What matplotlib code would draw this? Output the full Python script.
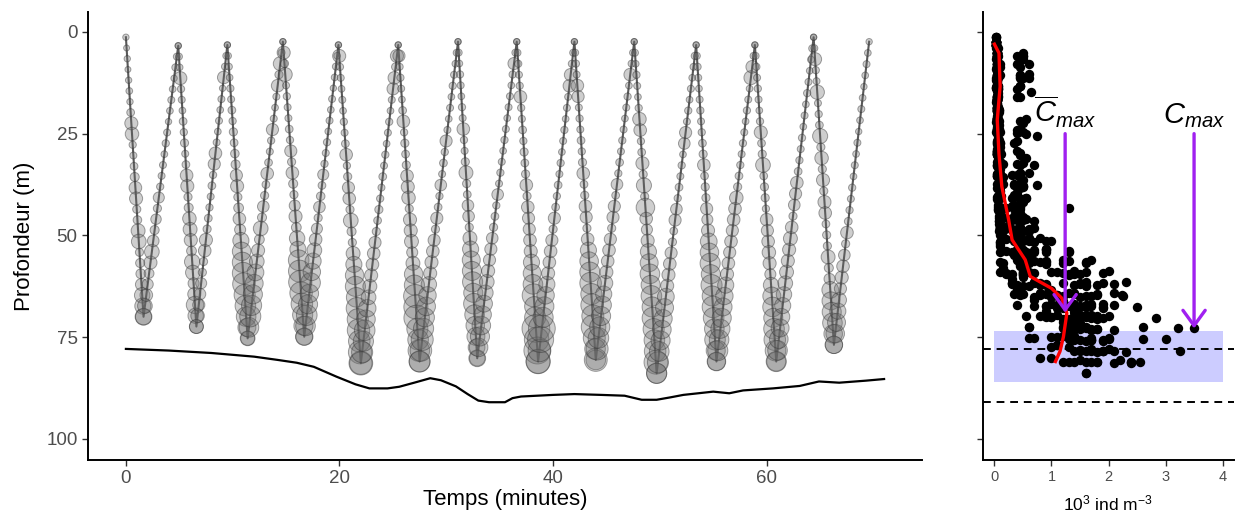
import numpy as np
import matplotlib
matplotlib.use('Agg')
import matplotlib.pyplot as plt

plt.rcParams['font.family'] = ['Liberation Sans', 'DejaVu Sans']
plt.rcParams['mathtext.fontset'] = 'custom'
plt.rcParams['mathtext.rm'] = 'Liberation Sans'
plt.rcParams['mathtext.it'] = 'Liberation Sans:italic'

# yo-yo track: turning points (surface / bottom of each profile)
turn_time = [0.0, 1.65, 4.9, 6.6, 9.5, 11.4, 14.7, 16.7, 19.9, 22.0, 25.5, 27.5, 31.1, 32.9,
             36.6, 38.6, 42.0, 44.0, 47.6, 49.7, 53.4, 55.3, 58.9, 60.9, 64.4, 66.3, 69.6]
turn_depth = [1.3, 70.0, 3.4, 72.4, 3.2, 75.3, 2.4, 74.9, 3.2, 81.4, 3.2, 81.0, 2.4, 80.2,
              2.4, 81.0, 2.4, 80.6, 2.4, 83.9, 3.2, 81.0, 3.2, 81.0, 1.3, 76.9, 2.4]

# concentrations (10^3 ind m-3) sampled along each leg, in time order
leg01 = [0.03,0.02,0.03,0.02,0.03,0.04,0.03,0.08,0.5,0.55,0.06,0.05,0.08,0.15,0.45,0.5,0.1,0.12,0.6,0.7,0.1,0.15,0.2,0.4,0.8,0.9,1.0]
leg02 = [0.9,0.7,0.45,0.3,0.2,0.5,0.7,0.35,0.15,0.25,0.1,0.3,0.06,0.05,0.05,0.04,0.06,0.05,0.03,0.04,0.05,0.04,0.03,0.06,0.05,0.03]
leg03 = [0.03,0.05,0.04,0.5,0.06,0.05,0.04,0.08,0.06,0.1,0.05,0.08,0.45,0.5,0.1,0.15,0.55,0.6,0.5,0.2,0.8,0.7,0.3,0.5,1.1,0.8,0.6]
leg04 = [0.6,0.55,0.4,0.35,0.3,0.1,0.1,0.45,0.5,0.1,0.08,0.06,0.05,0.08,0.06,0.4,0.45,0.05,0.04,0.05,0.04,0.05,0.03,0.45,0.05,0.04,0.03]
leg05 = [0.03,0.04,0.05,0.04,0.06,0.05,0.08,0.06,0.1,0.08,0.12,0.15,0.4,0.5,0.1,0.2,0.45,0.3,0.9,1.3,1.6,1.9,2.1,1.8,1.7,1.5,1.2,0.6]
leg06 = [0.7,1.5,1.8,1.6,1.4,1.2,1.0,0.7,0.5,0.2,0.7,0.15,0.35,0.1,0.08,0.45,0.08,0.05,0.06,0.4,0.05,0.04,0.05,0.45,0.1,0.6,0.05,0.03]
leg07 = [0.03,0.5,0.1,0.6,0.05,0.06,0.05,0.05,0.08,0.06,0.4,0.1,0.45,0.15,0.1,0.3,0.5,0.2,0.8,0.9,1.7,2.0,2.3,2.1,1.9,1.6,1.4,1.0]
leg08 = [1.1,1.5,1.7,1.4,1.3,1.5,1.1,0.9,0.7,0.45,0.3,0.1,0.35,0.12,0.08,0.3,0.06,0.05,0.06,0.04,0.05,0.04,0.05,0.03,0.04,0.05,0.04,0.03]
leg09 = [0.03,0.5,0.06,0.05,0.04,0.05,0.04,0.06,0.05,0.08,0.45,0.06,0.1,0.4,0.45,0.1,0.7,0.15,0.1,0.6,0.9,1.3,1.6,1.5,1.9,1.8,2.1,1.9,2.3,2.4]
leg10 = [2.1,1.8,1.6,1.7,1.3,1.1,0.7,0.6,0.5,0.45,0.45,0.4,0.1,0.08,0.1,0.06,0.05,0.08,0.05,0.06,0.04,0.05,0.06,0.04,0.05,0.4,0.45,0.1,0.5,0.03]
leg11 = [0.03,0.4,0.05,0.06,0.05,0.04,0.08,0.45,0.06,0.1,0.08,0.1,0.45,0.5,0.55,0.1,0.5,0.5,0.6,0.3,0.6,1.3,1.6,2.26,2.5,2.84,1.8,1.7,1.9,1.8]
leg12 = [1.7,1.9,2.0,1.6,1.4,1.3,1.1,0.8,0.5,0.5,0.45,0.4,0.1,0.4,0.08,0.06,0.35,0.05,0.08,0.06,0.4,0.05,0.04,0.05,0.04,0.06,0.05,0.04,0.05,0.03]
leg13 = [0.03,0.05,0.04,0.06,0.05,0.04,0.06,0.05,0.45,0.06,0.05,0.1,0.6,0.1,0.08,0.35,0.35,0.1,0.6,0.9,1.2,1.4,1.6,1.4,1.7,1.5,1.3,1.2,1.0,0.8]
leg14 = [1.0,1.3,1.4,1.3,1.1,1.0,0.8,0.7,0.5,0.4,0.4,0.35,0.1,0.08,0.06,0.35,0.05,0.06,0.05,0.04,0.06,0.05,0.04,0.05,0.05,0.04,0.06,0.4,0.05,0.03]
leg15 = [0.03,0.05,0.06,0.05,0.06,0.45,0.06,0.05,0.08,0.06,0.1,0.08,0.1,0.45,0.1,0.45,0.4,0.4,0.45,0.5,0.9,1.2,1.5,2.23,1.5,1.8,3.5,2.6,3.25,2.4]
leg16 = [2.55,2.1,3.0,3.22,1.6,1.4,1.1,0.9,0.5,0.45,0.45,0.4,0.1,0.4,0.08,0.06,0.08,0.05,0.06,0.04,0.05,0.06,0.04,0.05,0.05,0.45,0.45,0.06,0.05,0.03]
leg17 = [0.03,0.05,0.06,0.05,0.45,0.4,0.05,0.06,0.05,0.08,0.06,0.1,0.45,0.08,0.1,0.45,0.4,0.1,0.45,0.9,1.3,1.6,1.9,1.8,2.1,2.0,2.61,2.0,1.7,1.5]
leg18 = [2.2,2.0,1.7,1.6,1.4,1.2,0.9,0.8,0.5,0.45,0.45,0.4,0.1,0.4,0.4,0.08,0.35,0.06,0.08,0.05,0.06,0.05,0.04,0.05,0.06,0.04,0.45,0.05,0.04,0.03]
leg19 = [0.03,0.05,0.04,0.06,0.05,0.04,0.06,0.55,0.45,0.06,0.08,0.5,0.1,0.75,0.1,1.3,0.45,0.3,0.5,0.9,1.2,1.5,1.4,1.7,1.6,1.9,1.8,1.7,1.9,2.4,1.6]
leg20 = [1.6,1.8,1.5,1.4,1.3,1.2,1.2,1.0,0.5,0.5,0.45,0.4,0.1,0.08,0.4,0.35,0.06,0.08,0.05,0.06,0.04,0.35,0.4,0.05,0.06,0.04,0.05,0.04,0.05,0.06,0.03]
leg21 = [0.03,0.05,0.06,0.05,0.04,0.05,0.06,0.05,0.06,0.08,0.1,0.45,0.08,0.1,0.1,0.4,0.3,0.5,1.0,1.3,1.6,1.4,1.8,1.6,1.9,1.7,1.5,1.7,1.4,1.2]
leg22 = [1.3,1.6,1.5,1.4,1.4,1.2,1.1,0.9,0.5,0.45,0.4,0.45,0.4,0.45,0.45,0.55,0.1,0.08,0.06,0.05,0.06,0.05,0.04,0.06,0.05,0.04,0.6,0.45,0.05,0.03]
leg23 = [0.03,0.05,0.06,0.05,0.06,0.05,0.04,0.06,0.5,0.08,0.1,0.7,0.08,0.1,0.1,0.06,0.45,0.4,0.45,0.55,0.5,0.3,0.8,1.2,1.5,1.4,1.7,1.9,1.7,1.4]
leg24 = [1.6,1.5,1.3,1.2,1.0,0.9,0.8,0.7,0.6,0.5,0.5,0.6,0.45,0.1,0.35,0.4,0.45,0.08,0.06,0.05,0.06,0.04,0.05,0.04,0.06,0.05,0.04,0.05,0.06,0.03]
leg25 = [0.03,0.05,0.5,0.06,0.05,0.65,0.05,0.06,0.08,0.75,0.1,0.55,0.1,0.5,0.1,0.5,0.45,0.08,0.1,0.1,0.6,0.15,0.3,1.0,1.2,1.4,1.5,1.3,1.1]
leg26 = [1.1,1.3,1.2,0.9,0.7,0.4,0.5,0.45,0.35,0.1,0.45,0.08,0.06,0.05,0.06,0.04,0.05,0.04,0.05,0.03,0.04,0.05,0.04,0.03,0.04,0.05,0.04,0.03]
legs = [leg01, leg02, leg03, leg04, leg05, leg06, leg07, leg08, leg09, leg10, leg11, leg12, leg13,
        leg14, leg15, leg16, leg17, leg18, leg19, leg20, leg21, leg22, leg23, leg24, leg25, leg26]

# sea floor under the ship
bottom_time = [0, 4, 8, 12, 14.2, 16, 17.6, 19.7, 21.5, 22.8, 24.5, 25.6, 27, 28.5, 29.5, 30.9, 32, 33,
               34, 35.5, 36.2, 37, 40, 42, 44.5, 46.7, 48.3, 49.7, 51, 52.2, 55, 56.5, 57.8, 60.6,
               63.1, 64.9, 66.8, 69.3, 71]
bottom_depth = [77.9, 78.3, 78.9, 79.8, 80.6, 81.3, 82.3, 84.7, 86.6, 87.6, 87.6, 87.2, 86.2, 85.1,
                85.6, 87.1, 89.0, 90.6, 91.0, 91.0, 90.0, 89.6, 89.2, 89.0, 89.2, 89.4, 90.4, 90.4,
                89.8, 89.2, 88.4, 88.8, 88.1, 87.6, 87.0, 85.9, 86.2, 85.7, 85.3]

# mean profile (red) and annotations of the right panel
mean_depth = [3, 5.2, 13.4, 21.6, 30, 38, 46.2, 51.1, 56, 60.1, 63, 65.4, 69.1, 74.9, 78.5, 81]
mean_conc = [0.0, 0.08, 0.1, 0.05, 0.08, 0.13, 0.25, 0.31, 0.54, 0.63, 1.0, 1.18, 1.27, 1.21, 1.15, 1.07]
cbar_max = 1.24
cbar_max_depth = 69.0
band_depth = [73.5, 86.1]
band_conc = [0, 4]

# samples
times, depths, concs = [], [], []
for i, c in enumerate(legs):
    n = len(c)
    times.append(np.linspace(turn_time[i], turn_time[i + 1], n))
    depths.append(np.linspace(turn_depth[i], turn_depth[i + 1], n))
    concs.append(np.array(c))
times = np.concatenate(times)
depths = np.concatenate(depths)
concs = np.concatenate(concs)
cmax = concs.max()
cmax_depth = depths[concs.argmax()]

fig = plt.figure(figsize=(12.38, 5.21), dpi=100)
W, H = 1238, 521
ax1 = fig.add_axes([88 / W, 61 / H, 834 / W, 448 / H])
ax2 = fig.add_axes([983 / W, 61 / H, 251 / W, 448 / H])

# left panel
diam = 3.0 + 17.0 * np.sqrt(concs / cmax)
ax1.plot(turn_time, turn_depth, color='#303030', lw=1.5, alpha=0.8, zorder=2)
ax1.scatter(times, depths, s=diam ** 2, facecolor=(0.42, 0.42, 0.42, 0.33),
            edgecolor=(0.2, 0.2, 0.2, 0.45), linewidths=0.7, zorder=3)
ax1.plot(bottom_time, bottom_depth, color='black', lw=1.6, zorder=4)
ax1.set_xlim(-3.55, 74.55)
ax1.set_ylim(105.2, -4.9)
ax1.set_xticks([0, 20, 40, 60])
ax1.set_yticks([0, 25, 50, 75, 100])

# right panel
ax2.fill_betweenx(band_depth, band_conc[0], band_conc[1], color='#CCCCFF', lw=0, zorder=1)
for d in [min(bottom_depth), max(bottom_depth)]:
    ax2.axhline(d, color='black', lw=1.4, ls=(0, (4, 3)), zorder=2)
ax2.scatter(concs, depths, s=46, color='black', lw=0, zorder=3)
ax2.plot(mean_conc, mean_depth, color='red', lw=2.4, zorder=4)
for x, tip, lab in [(cbar_max, cbar_max_depth, r'$\overline{C}_{max}$'),
                    (cmax, cmax_depth, r'$C_{max}$')]:
    ax2.annotate('', xy=(x, tip), xytext=(x, 25),
                 arrowprops=dict(arrowstyle='->,head_length=1.1,head_width=0.8',
                                 color='#A020F0', lw=2.4, shrinkA=0, shrinkB=0), zorder=5)
    ax2.text(x, 24.2, lab, ha='center', va='bottom', fontsize=21, color='black')
ax2.set_xlim(-0.2, 4.2)
ax2.set_ylim(105.2, -4.9)
ax2.set_xticks([0, 1, 2, 3, 4])
ax2.set_yticks([0, 25, 50, 75, 100])
ax2.set_yticklabels([])

for ax, ls in [(ax1, 13.5), (ax2, 10.5)]:
    for s in ['top', 'right']:
        ax.spines[s].set_visible(False)
    for s in ['left', 'bottom']:
        ax.spines[s].set_linewidth(1.4)
        ax.spines[s].set_color('black')
    ax.tick_params(length=4, width=1, color='#333333', labelcolor='#4D4D4D', labelsize=ls)

fig.text(505 / W, 1 - 500 / H, 'Temps (minutes)', ha='center', va='center', fontsize=16)
fig.text(25 / W, 1 - 236 / H, 'Profondeur (m)', ha='center', va='center', rotation=90, fontsize=16)
fig.text(1108 / W, 1 - 503 / H, r'10$^{3}$ ind m$^{-3}$', ha='center', va='center', fontsize=12.5)

fig.savefig('out.png', dpi=100)
